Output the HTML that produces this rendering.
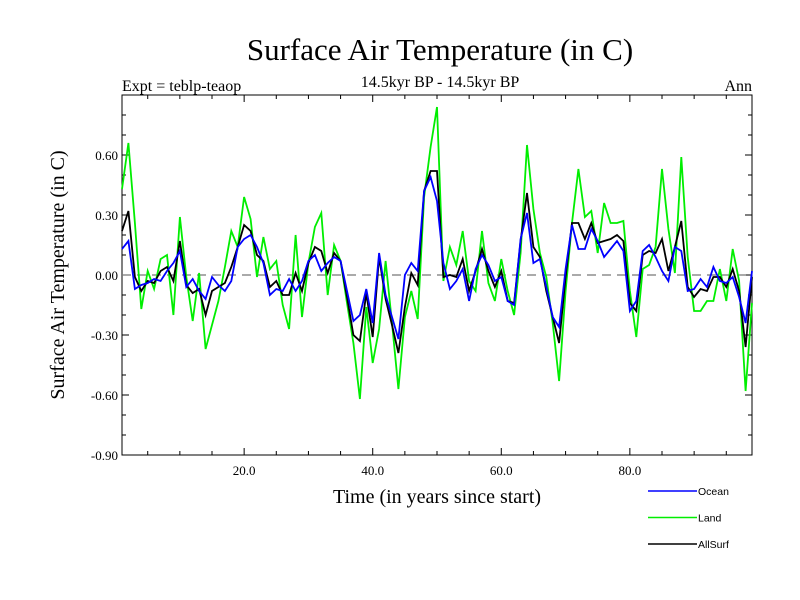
<!DOCTYPE html>
<html><head><meta charset="utf-8"><style>
body{margin:0;background:#fff}
svg{display:block}
.serif{font-family:"Liberation Serif",serif}
.sans{font-family:"Liberation Sans",sans-serif}
</style></head><body>
<svg id="chart" width="800" height="600" viewBox="0 0 800 600">
<text class="serif" x="440" y="60" font-size="31" text-anchor="middle">Surface Air Temperature (in C)</text>
<text class="serif" x="440" y="87" font-size="16" text-anchor="middle">14.5kyr BP - 14.5kyr BP</text>
<text class="serif" x="122" y="91" font-size="16">Expt = teblp-teaop</text>
<text class="serif" x="752" y="91" font-size="16" text-anchor="end">Ann</text>
<text class="serif" x="0" y="0" font-size="20" text-anchor="middle" transform="translate(64,275) rotate(-90)">Surface Air Temperature (in C)</text>
<text class="serif" x="437" y="503" font-size="20" text-anchor="middle">Time (in years since start)</text>
<g id="axes"></g>
<g id="series"></g>
<g id="legend"></g>
</svg>
<script>
const years = [];
for (let i = 1; i <= 99; i++) years.push(i);
const landValues = [0.43,0.66,0.26,-0.17,0.02,-0.07,0.08,0.10,-0.20,0.29,-0.01,-0.23,0.01,-0.37,-0.25,-0.13,0.04,0.22,0.14,0.39,0.28,-0.01,0.19,0.03,0.07,-0.15,-0.27,0.20,-0.21,0.06,0.24,0.31,-0.10,0.15,0.07,-0.14,-0.34,-0.62,-0.16,-0.44,-0.27,0.07,-0.24,-0.57,-0.21,-0.08,-0.22,0.39,0.64,0.84,-0.03,0.14,0.05,0.22,-0.03,-0.08,0.22,-0.04,-0.13,0.08,-0.08,-0.20,0.11,0.65,0.33,0.11,-0.01,-0.24,-0.53,-0.08,0.26,0.53,0.29,0.32,0.11,0.36,0.26,0.26,0.27,-0.08,-0.31,0.03,0.05,0.14,0.53,0.23,0.01,0.59,0.09,-0.18,-0.18,-0.13,-0.13,0.03,-0.13,0.13,-0.03,-0.58,-0.14];
const allSurfValues = [0.22,0.32,-0.01,-0.08,-0.03,-0.04,0.02,0.04,-0.03,0.17,-0.05,-0.09,-0.07,-0.20,-0.08,-0.06,-0.04,0.04,0.14,0.25,0.22,0.10,0.07,-0.06,-0.03,-0.10,-0.10,0.01,-0.08,0.06,0.14,0.12,0.01,0.11,0.07,-0.11,-0.30,-0.33,-0.09,-0.31,0.09,-0.12,-0.25,-0.39,-0.16,0.01,-0.05,0.42,0.52,0.52,-0.01,0.00,-0.01,0.08,-0.08,0.02,0.13,0.02,-0.06,0.02,-0.13,-0.14,0.17,0.41,0.14,0.09,-0.08,-0.21,-0.34,-0.01,0.26,0.26,0.18,0.26,0.16,0.17,0.18,0.20,0.17,-0.14,-0.18,0.10,0.12,0.11,0.18,0.02,0.14,0.27,-0.06,-0.11,-0.07,-0.08,-0.01,-0.01,-0.06,0.03,-0.08,-0.36,-0.01];
const oceanValues = [0.13,0.17,-0.07,-0.05,-0.04,-0.02,-0.03,0.02,0.06,0.12,-0.06,-0.02,-0.08,-0.12,-0.01,-0.05,-0.08,-0.03,0.14,0.18,0.20,0.14,0.06,-0.10,-0.07,-0.08,-0.02,-0.08,-0.03,0.07,0.10,0.02,0.06,0.09,0.07,-0.08,-0.23,-0.20,-0.07,-0.24,0.11,-0.10,-0.21,-0.32,0.00,0.06,0.02,0.42,0.49,0.37,0.06,-0.07,-0.03,0.03,-0.13,0.03,0.10,0.05,-0.03,-0.01,-0.13,-0.15,0.18,0.31,0.06,0.08,-0.06,-0.21,-0.26,0.03,0.25,0.13,0.13,0.23,0.17,0.09,0.13,0.17,0.12,-0.18,-0.13,0.12,0.15,0.09,0.02,-0.03,0.14,0.12,-0.08,-0.07,-0.02,-0.06,0.04,-0.03,-0.04,-0.01,-0.11,-0.24,0.02];
const yTickValues = [-0.9,-0.6,-0.3,0.0,0.3,0.6];
const yTickLabels = ["-0.90","-0.60","-0.30","0.00","0.30","0.60"];
const xTickValues = [20,40,60,80];
const xTickLabels = ["20.0","40.0","60.0","80.0"];
const seriesNames = ["Ocean","Land","AllSurf"];

const L=122,R=752,T=95,B=455, X0=1,X1=99, Y0=-0.9,Y1=0.9;
const sx=v=>L+(v-X0)/(X1-X0)*(R-L);
const sy=v=>B-(v-Y0)/(Y1-Y0)*(B-T);
const NS="http://www.w3.org/2000/svg";
function mk(tag,attrs,parent){const e=document.createElementNS(NS,tag);for(const k in attrs)e.setAttribute(k,attrs[k]);parent.appendChild(e);return e;}
const axes=document.getElementById('axes');
const frame=mk('rect',{x:L,y:T,width:R-L,height:B-T,fill:'none',stroke:'#000','stroke-width':1},axes);


for(let v=-0.9;v<=0.9001;v+=0.1){const y=sy(v);const major=Math.abs(Math.round(v*10)%3)===0;const len=major?7:4;
 const t1=mk('line',{x1:L,y1:y,x2:L+len,y2:y,stroke:'#000'},axes);
 
 
 const t2=mk('line',{x1:R,y1:y,x2:R-len,y2:y,stroke:'#000'},axes);
 
 }
yTickValues.forEach((v,i)=>{const t=mk('text',{x:L-4,y:sy(v)+5,'font-size':13,'text-anchor':'end','class':'serif'},axes);t.textContent=yTickLabels[i];
 
 });
for(let v=5;v<X1;v+=5){const x=sx(v);const major=v%20===0;const len=major?7:4;
 const t1=mk('line',{x1:x,y1:B,x2:x,y2:B-len,stroke:'#000'},axes);
 
 
 const t2=mk('line',{x1:x,y1:T,x2:x,y2:T+len,stroke:'#000'},axes);
 
 }
xTickValues.forEach((v,i)=>{const t=mk('text',{x:sx(v),y:B+20,'font-size':13,'text-anchor':'middle','class':'serif'},axes);t.textContent=xTickLabels[i];
 
 });
const zl=mk('line',{x1:L,y1:sy(0),x2:R,y2:sy(0),stroke:'#777','stroke-width':1.3,'stroke-dasharray':'9,6'},axes);


const ser=document.getElementById('series');
function drawLine(vals,color,w,name){const d=vals.map((v,i)=>(i?'L':'M')+sx(years[i]).toFixed(1)+','+sy(v).toFixed(1)).join('');
 const p=mk('path',{d:d,fill:'none',stroke:color,'stroke-width':w,'stroke-linejoin':'miter'},ser);
 
 }
drawLine(landValues,'#00ee00',1.8,'land-line');
drawLine(allSurfValues,'#000000',1.8,'allsurf-line');
drawLine(oceanValues,'#0000ff',1.8,'ocean-line');
const leg=document.getElementById('legend');
const colors=['#0000ff','#00ee00','#000000'];
seriesNames.forEach((n,i)=>{const y=491+i*26.5;
 const g=mk('g',{},leg);
 
 
 mk('line',{x1:648,y1:y,x2:697,y2:y,stroke:colors[i],'stroke-width':1.5},g);
 const t=mk('text',{x:698,y:y+4,'font-size':10.5,'class':'sans'},g);t.textContent=n;});
</script>
</body></html>
